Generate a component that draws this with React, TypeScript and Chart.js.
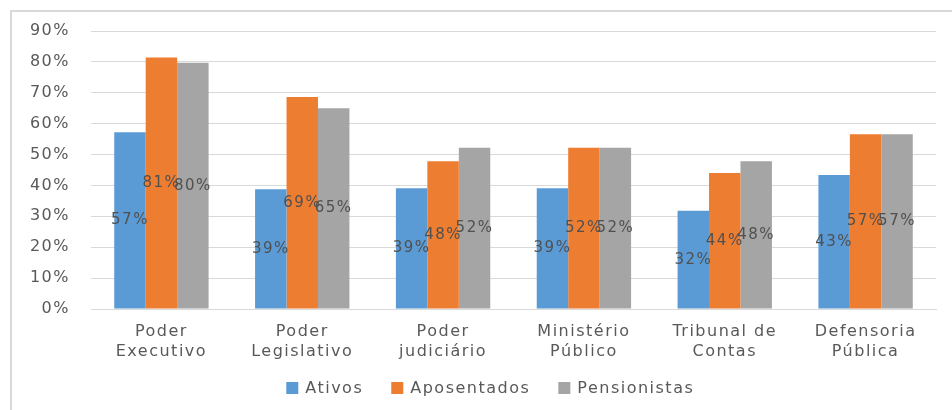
import React, { useEffect, useRef } from 'react';
import { Chart, registerables } from 'chart.js';

Chart.register(...registerables);

const categories: string[][] = [
  ['Poder', 'Executivo'],
  ['Poder', 'Legislativo'],
  ['Poder', 'judiciário'],
  ['Ministério', 'Público'],
  ['Tribunal de', 'Contas'],
  ['Defensoria', 'Pública'],
];
const seriesNames = ['Ativos', 'Aposentados', 'Pensionistas'];
const ativos = [57.2, 38.8, 39.1, 39.1, 31.8, 43.4];
const aposentados = [81.4, 68.6, 47.8, 52.2, 44.0, 56.6];
const pensionistas = [79.7, 65.0, 52.2, 52.2, 47.8, 56.6];
const yMin = 0;
const yMax = 90;
const yStep = 10;

const colors = ['#5B9BD5', '#ED7D31', '#A5A5A5'];
const FONT = "'DejaVu Sans', sans-serif";
const TEXT = '#595959';
const SPACING = '1.5px';

const spacingPlugin = {
  id: 'spacing',
  beforeUpdate(chart: any) {
    chart.ctx.letterSpacing = SPACING;
  },
  beforeDraw(chart: any) {
    chart.ctx.letterSpacing = SPACING;
  },
};

const labelPlugin = {
  id: 'barLabels',
  afterDatasetsDraw(chart: any) {
    const ctx = chart.ctx;
    ctx.save();
    ctx.font = `15px ${FONT}`;
    ctx.fillStyle = '#505050';
    ctx.textAlign = 'center';
    ctx.textBaseline = 'middle';
    chart.data.datasets.forEach((ds: any, di: number) => {
      const meta = chart.getDatasetMeta(di);
      meta.data.forEach((bar: any, i: number) => {
        const v = ds.data[i];
        const y = (bar.y + bar.base) / 2;
        ctx.fillText(Math.round(v) + '%', bar.x, y);
      });
    });
    ctx.restore();
  },
};

const legendPlugin = {
  id: 'customLegend',
  afterDraw(chart: any) {
    const ctx = chart.ctx;
    ctx.save();
    ctx.letterSpacing = SPACING;
    ctx.font = `16px ${FONT}`;
    ctx.textBaseline = 'middle';
    ctx.textAlign = 'left';
    const box = 12;
    const gap = 7;
    const itemGap = 28;
    const items = chart.data.datasets.map((ds: any) => ({
      text: ds.label,
      color: ds.backgroundColor,
      w: ctx.measureText(ds.label).width,
    }));
    const total = items.reduce((s: number, it: any) => s + box + gap + it.w, 0) + itemGap * (items.length - 1);
    const cy = chart.height - 22;
    let x = chart.width * 0.515 - total / 2;
    items.forEach((it: any) => {
      ctx.fillStyle = it.color;
      ctx.fillRect(x, cy - box / 2, box, box);
      ctx.fillStyle = TEXT;
      ctx.fillText(it.text, x + box + gap, cy + 1);
      x += box + gap + it.w + itemGap;
    });
    ctx.restore();
  },
};

export default function App() {
  const ref = useRef<HTMLCanvasElement>(null);
  useEffect(() => {
    if (!ref.current) return;
    const chart = new Chart(ref.current, {
      type: 'bar',
      data: {
        labels: categories,
        datasets: [ativos, aposentados, pensionistas].map((d, i) => ({
          label: seriesNames[i],
          data: d,
          backgroundColor: colors[i],
          borderWidth: 0,
          categoryPercentage: 0.67,
          barPercentage: 1,
        })),
      },
      options: {
        animation: false,
        responsive: false,
        maintainAspectRatio: false,
        layout: { padding: { left: 0, right: 16, top: 31, bottom: 41 } },
        plugins: {
          tooltip: { enabled: false },
          legend: { display: false },
        },
        scales: {
          x: {
            grid: { display: false },
            border: { display: true, color: '#D9D9D9', width: 1 },
            ticks: {
              color: TEXT,
              font: { family: FONT, size: 16, lineHeight: 1.3 },
              padding: 4,
              maxRotation: 0,
              autoSkip: false,
            },
            afterFit: (s: any) => {
              s.height = 60;
            },
          },
          y: {
            min: yMin,
            max: yMax,
            border: { display: false },
            grid: { color: '#D9D9D9', lineWidth: 1, drawTicks: false },
            ticks: {
              stepSize: yStep,
              color: TEXT,
              font: { family: FONT, size: 16 },
              padding: 21,
              callback: (v: any) => v + '%',
            },
            afterFit: (s: any) => {
              s.width = 91;
            },
          },
        },
      },
      plugins: [spacingPlugin, labelPlugin, legendPlugin],
    } as any);
    return () => chart.destroy();
  }, []);

  return (
    <div style={{ position: 'fixed', left: 0, top: 0, width: 952, height: 410, overflow: 'hidden', background: '#fff' }}>
      <div
        style={{
          position: 'absolute',
          left: 10,
          top: 10,
          width: 2000,
          height: 2000,
          borderLeft: '2px solid #D9D9D9',
          borderTop: '2px solid #D9D9D9',
        }}
      />
      <canvas ref={ref} width={952} height={410} style={{ position: 'absolute', left: 0, top: 0, width: 952, height: 410 }} />
    </div>
  );
}
